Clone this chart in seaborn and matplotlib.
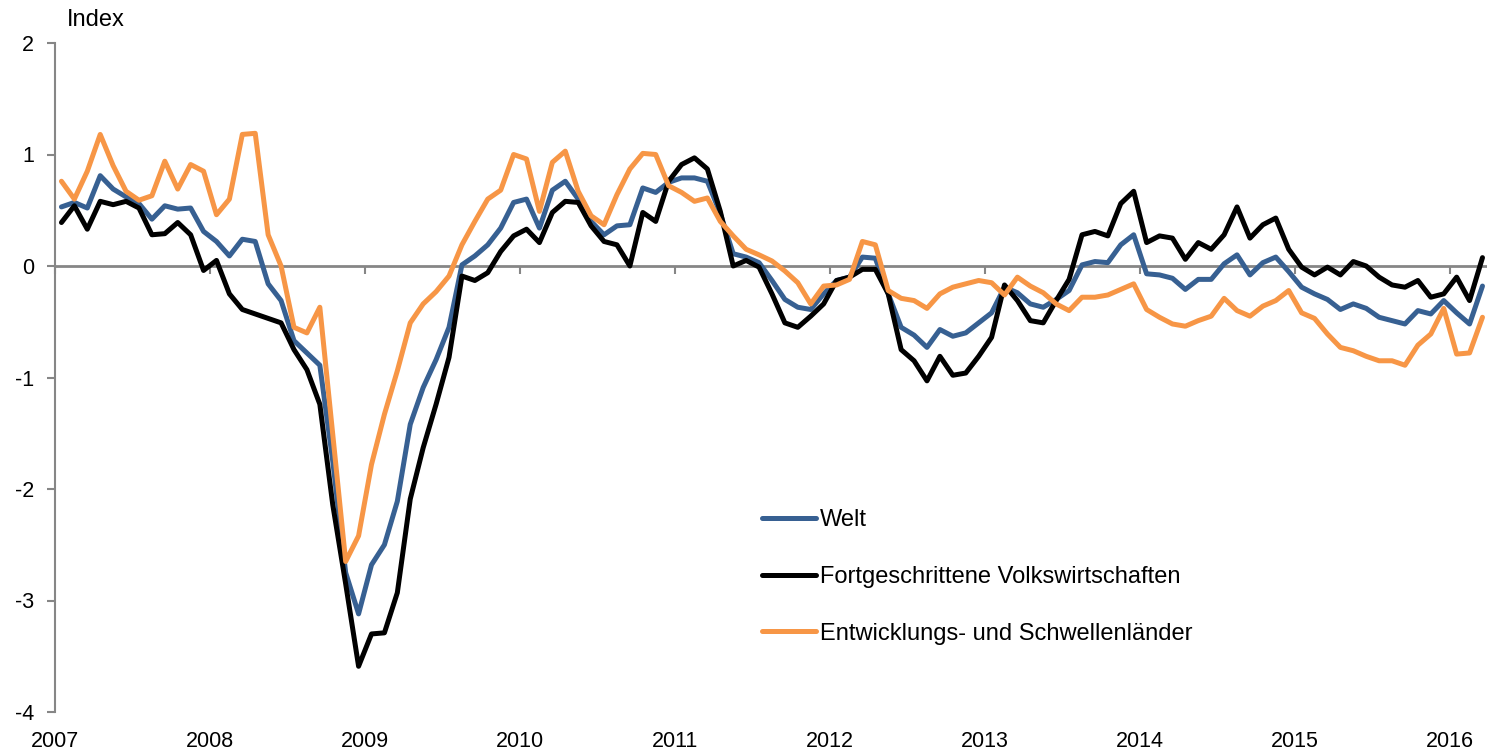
"""
Konjunkturindex: Welt, fortgeschrittene Volkswirtschaften und
Entwicklungs-/Schwellenländer, monatlich 2007 bis Anfang 2016.
"""
import matplotlib.pyplot as plt
import numpy as np
import pandas as pd
import seaborn as sns

# monthly values, Jan 2007 .. Mar 2016
welt = [
    0.53, 0.57, 0.52, 0.81, 0.69, 0.62, 0.56, 0.42, 0.54, 0.51, 0.52, 0.31,
    0.22, 0.09, 0.24, 0.22, -0.16, -0.31, -0.67, -0.78, -0.89, -1.75, -2.75, -3.12,
    -2.68, -2.50, -2.11, -1.42, -1.09, -0.84, -0.55, 0.01, 0.09, 0.19, 0.34, 0.57,
    0.60, 0.34, 0.68, 0.76, 0.60, 0.40, 0.28, 0.36, 0.37, 0.70, 0.66, 0.75,
    0.79, 0.79, 0.76, 0.47, 0.11, 0.08, 0.03, -0.13, -0.30, -0.37, -0.39, -0.25,
    -0.13, -0.10, 0.08, 0.07, -0.25, -0.55, -0.62, -0.73, -0.57, -0.63, -0.60, -0.51,
    -0.42, -0.19, -0.24, -0.34, -0.37, -0.30, -0.22, 0.01, 0.04, 0.03, 0.19, 0.28,
    -0.07, -0.08, -0.11, -0.21, -0.12, -0.12, 0.02, 0.10, -0.08, 0.03, 0.08, -0.05,
    -0.19, -0.25, -0.30, -0.39, -0.34, -0.38, -0.46, -0.49, -0.52, -0.40, -0.43, -0.31,
    -0.42, -0.52, -0.18,
]
fortgeschritten = [
    0.39, 0.54, 0.33, 0.58, 0.55, 0.58, 0.52, 0.28, 0.29, 0.39, 0.28, -0.04,
    0.05, -0.25, -0.39, -0.43, -0.47, -0.51, -0.75, -0.93, -1.24, -2.14, -2.85, -3.59,
    -3.30, -3.29, -2.93, -2.09, -1.63, -1.24, -0.82, -0.09, -0.13, -0.06, 0.13, 0.27,
    0.33, 0.21, 0.48, 0.58, 0.57, 0.36, 0.22, 0.19, 0.00, 0.48, 0.40, 0.76,
    0.91, 0.97, 0.87, 0.49, 0.00, 0.05, -0.01, -0.25, -0.51, -0.55, -0.45, -0.34,
    -0.13, -0.10, -0.03, -0.03, -0.25, -0.75, -0.85, -1.03, -0.81, -0.98, -0.96, -0.81,
    -0.64, -0.17, -0.31, -0.49, -0.51, -0.31, -0.12, 0.28, 0.31, 0.27, 0.56, 0.67,
    0.21, 0.27, 0.25, 0.06, 0.21, 0.15, 0.28, 0.53, 0.25, 0.37, 0.43, 0.15,
    -0.01, -0.08, -0.01, -0.08, 0.04, 0.00, -0.10, -0.17, -0.19, -0.13, -0.28, -0.25,
    -0.10, -0.31, 0.075,
]
schwellen = [
    0.76, 0.60, 0.85, 1.18, 0.90, 0.67, 0.59, 0.63, 0.94, 0.69, 0.91, 0.85,
    0.46, 0.60, 1.18, 1.19, 0.28, 0.00, -0.55, -0.60, -0.37, -1.51, -2.65, -2.42,
    -1.78, -1.33, -0.94, -0.51, -0.34, -0.23, -0.09, 0.19, 0.40, 0.60, 0.68, 1.00,
    0.96, 0.49, 0.93, 1.03, 0.67, 0.45, 0.37, 0.64, 0.87, 1.01, 1.00, 0.72,
    0.66, 0.58, 0.61, 0.40, 0.27, 0.15, 0.10, 0.045, -0.045, -0.15, -0.34, -0.18,
    -0.17, -0.12, 0.22, 0.19, -0.22, -0.29, -0.31, -0.38, -0.25, -0.19, -0.16, -0.13,
    -0.15, -0.26, -0.10, -0.18, -0.24, -0.34, -0.40, -0.28, -0.28, -0.26, -0.21, -0.16,
    -0.39, -0.46, -0.52, -0.54, -0.49, -0.45, -0.29, -0.40, -0.45, -0.36, -0.31, -0.22,
    -0.42, -0.47, -0.61, -0.73, -0.76, -0.81, -0.85, -0.85, -0.89, -0.71, -0.61, -0.38,
    -0.79, -0.78, -0.46,
]

SERIES = ["Welt", "Fortgeschrittene Volkswirtschaften", "Entwicklungs- und Schwellenländer"]
COLORS = ["#376092", "#000000", "#F79646"]
YEARS = list(range(2007, 2017))
Y_TICKS = [2, 1, 0, -1, -2, -3, -4]
GREY = "#868686"

sns.set_theme(style="white")
plt.rcParams["font.family"] = ["Liberation Sans", "DejaVu Sans"]
plt.rcParams["axes.unicode_minus"] = False
plt.rcParams["text.color"] = "black"

month = np.arange(len(welt))
df = pd.DataFrame({"month": month, SERIES[0]: welt,
                   SERIES[1]: fortgeschritten, SERIES[2]: schwellen})
long = df.melt(id_vars="month", var_name="series", value_name="value")

fig = plt.figure(figsize=(14.87, 7.52), dpi=100)
ax = fig.add_axes([55 / 1487, 40 / 752, 1432 / 1487, 669 / 752])

sns.lineplot(data=long, x="month", y="value", hue="series", hue_order=SERIES,
             palette=dict(zip(SERIES, COLORS)), linewidth=3.6, ax=ax, legend=False)

ax.set_xlim(-0.5, len(welt) - 0.65)
ax.set_ylim(-4, 2)
ax.set_xlabel("")
ax.set_ylabel("")

# axes styling: horizontal axis sits at zero, labels stay at the bottom
for side in ["top", "right"]:
    ax.spines[side].set_visible(False)
ax.spines["left"].set_color(GREY)
ax.spines["left"].set_linewidth(1.5)
ax.spines["bottom"].set_position(("data", 0))
ax.spines["bottom"].set_color(GREY)
ax.spines["bottom"].set_linewidth(2)
ax.spines["bottom"].set_zorder(0.5)

year_ticks = np.arange(-0.5, len(welt), 12)
ax.set_xticks(year_ticks)
ax.tick_params(axis="x", direction="out", length=6, width=1.5, color=GREY,
               labelbottom=False, bottom=True)
ax.set_yticks(Y_TICKS)
ax.set_yticklabels([str(v) for v in Y_TICKS])
ax.tick_params(axis="y", direction="out", length=6, width=1.5, color=GREY,
               labelsize=15.5, labelcolor="black", pad=9, left=True)

sec = ax.secondary_xaxis("bottom")
sec.set_xticks(year_ticks, labels=[str(y) for y in YEARS])
sec.spines["bottom"].set_visible(False)
sec.tick_params(length=0, pad=14, labelsize=15.5, labelcolor="black")

ax.text(0.008, 1 + 23 / 669, "Index", transform=ax.transAxes,
        va="center", ha="left", fontsize=17, color="black")

leg = ax.legend(ax.lines[:3], SERIES, loc="upper left", bbox_to_anchor=(0.494, 0.303),
                frameon=False, fontsize=17, handlelength=2.25, handletextpad=0.2,
                labelspacing=1.47, borderaxespad=0, borderpad=0)
for t in leg.get_texts():
    t.set_color("black")

fig.savefig("out.png", dpi=100)
plt.close(fig)
